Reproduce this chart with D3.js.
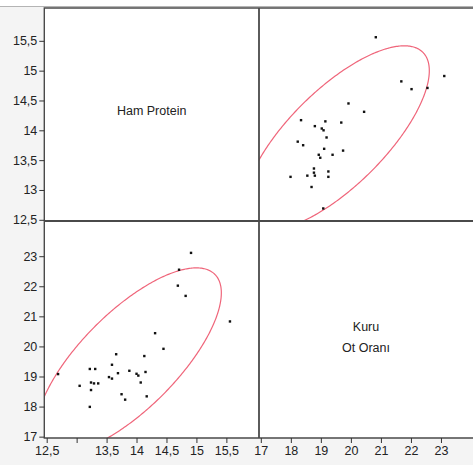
<!DOCTYPE html>
<html><head><meta charset="utf-8">
<script src="https://cdn.jsdelivr.net/npm/d3@7"></script>
<style>body{margin:0;background:#fff}svg{display:block}text{font-family:"Liberation Sans",Arial,sans-serif;fill:#222}</style>
</head><body><svg id="c" width="473" height="465"></svg>
<script>
// Data: Kuru Ot Oranı (dry hay ratio) vs Ham Protein (crude protein)
const kuruOt = [20.83,21.68,22.02,22.55,23.11,19.92,20.44,18.34,19.15,19.68,18.80,19.03,19.09,19.19,18.23,18.41,19.11,19.74,18.93,19.39,18.98,18.77,18.77,19.25,18.55,18.80,19.25,17.99,18.69,19.08];
const hamProtein = [15.56,14.82,14.69,14.71,14.91,14.45,14.31,14.17,14.15,14.13,14.07,14.03,14.00,13.88,13.81,13.75,13.69,13.66,13.59,13.59,13.54,13.36,13.29,13.31,13.24,13.24,13.22,13.22,13.05,12.69];
const proteinTicks = [12.5,13,13.5,14,14.5,15,15.5];
const proteinXLabels = ["12,5","","13,5","14","14,5","15","15,5"];
const proteinYLabels = ["12,5","13","13,5","14","14,5","15","15,5"];
const kuruTicks = [17,18,19,20,21,22,23];
const kuruXLabels = ["17","18","19","20","21","22","23"];
const kuruYLabels = ["17","18","19","20","21","22","23"];
const varNames = ["Ham Protein", ["Kuru","Ot Oranı"]];
const ellipseLevel = 5.75; // density ellipse level

const L=44.3, MX=259, R=480, T=8, MY=221, B=438;
const svg=d3.select("#c");
svg.append("rect").attr("width",473).attr("height",465).attr("fill","#f4f4f4");
svg.append("rect").attr("width",473).attr("height",6).attr("fill","#fff");
svg.append("line").attr("x1",0).attr("x2",473).attr("y1",6.5).attr("y2",6.5).attr("stroke","#b4b4b4");
svg.append("rect").attr("x",L).attr("y",T).attr("width",R-L).attr("height",B-T).attr("fill","#fff");

const xP=d3.scaleLinear().domain([12.46,16.045]).range([L,MX]);
const yP=d3.scaleLinear().domain([12.48,16.05]).range([MY,T]);
const xK=d3.scaleLinear().domain([16.94,24.3]).range([MX,R]);
const yK=d3.scaleLinear().domain([16.955,24.17]).range([B,MY]);

const defs=svg.append("defs");
defs.append("clipPath").attr("id","cUR").append("rect").attr("x",MX).attr("y",T).attr("width",R-MX).attr("height",MY-T);
defs.append("clipPath").attr("id","cLL").append("rect").attr("x",L).attr("y",MY).attr("width",MX-L).attr("height",B-MY);

function ellipse(xs,ys){
  const n=xs.length, mx=d3.mean(xs), my=d3.mean(ys);
  let sxx=0,syy=0,sxy=0;
  for(let i=0;i<n;i++){const dx=xs[i]-mx,dy=ys[i]-my;sxx+=dx*dx;syy+=dy*dy;sxy+=dx*dy;}
  sxx/=n-1;syy/=n-1;sxy/=n-1;
  const tr=sxx+syy, det=sxx*syy-sxy*sxy;
  const l1=tr/2+Math.sqrt(tr*tr/4-det), l2=tr/2-Math.sqrt(tr*tr/4-det);
  const th=Math.atan2(l1-sxx,sxy);
  const a=Math.sqrt(l1*ellipseLevel), b=Math.sqrt(l2*ellipseLevel);
  const pts=[];
  for(let k=0;k<=360;k++){const t=k/360*2*Math.PI;
    pts.push([mx+a*Math.cos(t)*Math.cos(th)-b*Math.sin(t)*Math.sin(th), my+a*Math.cos(t)*Math.sin(th)+b*Math.sin(t)*Math.cos(th)]);}
  return pts;
}
const line=(sx,sy)=>d3.line().x(d=>sx(d[0])).y(d=>sy(d[1]));

// Upper right: x = Kuru, y = Protein
const ur=svg.append("g").attr("clip-path","url(#cUR)");
ur.append("path").attr("d",line(xK,yP)(ellipse(kuruOt,hamProtein))).attr("fill","none").attr("stroke","#ec4a63").attr("stroke-width",1.2).attr("stroke-opacity",0.85);
ur.selectAll("rect").data(kuruOt).join("rect").attr("x",(d)=>xK(d)-1.2).attr("y",(d,i)=>yP(hamProtein[i])-1.2).attr("width",2.4).attr("height",2.4).attr("fill","#111");

// Lower left: x = Protein, y = Kuru
const ll=svg.append("g").attr("clip-path","url(#cLL)");
ll.append("path").attr("d",line(xP,yK)(ellipse(hamProtein,kuruOt))).attr("fill","none").attr("stroke","#ec4a63").attr("stroke-width",1.2).attr("stroke-opacity",0.85);
ll.selectAll("rect").data(hamProtein).join("rect").attr("x",(d)=>xP(d)-1.2).attr("y",(d,i)=>yK(kuruOt[i])-1.2).attr("width",2.4).attr("height",2.4).attr("fill","#111");

// Frame and dividers
const fc="#4a4a4a";
svg.append("path").attr("d",`M${R},${T}H${L}V${B}H${R}`).attr("fill","none").attr("stroke",fc).attr("stroke-width",1.4);
svg.append("line").attr("x1",MX).attr("x2",MX).attr("y1",T).attr("y2",B).attr("stroke",fc).attr("stroke-width",1.8);
svg.append("line").attr("x1",L).attr("x2",R).attr("y1",MY).attr("y2",MY).attr("stroke",fc).attr("stroke-width",1.8);

// Axes
function styleAxis(g){g.select(".domain").remove();g.selectAll(".tick line").attr("stroke","#333");g.selectAll(".tick text").attr("font-size","12.5px").attr("fill","#222").attr("font-family","Liberation Sans, Arial, sans-serif");}
svg.append("g").attr("transform",`translate(${L},0)`).call(d3.axisLeft(yP).tickValues(proteinTicks).tickSize(5).tickPadding(2).tickFormat((d,i)=>proteinYLabels[i])).call(styleAxis);
svg.append("g").attr("transform",`translate(${L},0)`).call(d3.axisLeft(yK).tickValues(kuruTicks).tickSize(5).tickPadding(2).tickFormat((d,i)=>kuruYLabels[i])).call(styleAxis);
svg.append("g").attr("transform",`translate(0,${B})`).call(d3.axisBottom(xP).tickValues(proteinTicks).tickSize(5).tickPadding(3).tickFormat((d,i)=>proteinXLabels[i])).call(styleAxis);
svg.append("g").attr("transform",`translate(0,${B})`).call(d3.axisBottom(xK).tickValues(kuruTicks).tickSize(5).tickPadding(3).tickFormat((d,i)=>kuruXLabels[i])).call(styleAxis);

// Diagonal labels
svg.append("text").attr("x",(L+MX)/2).attr("y",115).attr("text-anchor","middle").attr("font-size","12.5px").text(varNames[0]);
const kt=svg.append("text").attr("text-anchor","middle").attr("font-size","12.5px");
varNames[1].forEach((s,i)=>kt.append("tspan").attr("x",366).attr("y",331+i*21).text(s));
</script></body></html>
